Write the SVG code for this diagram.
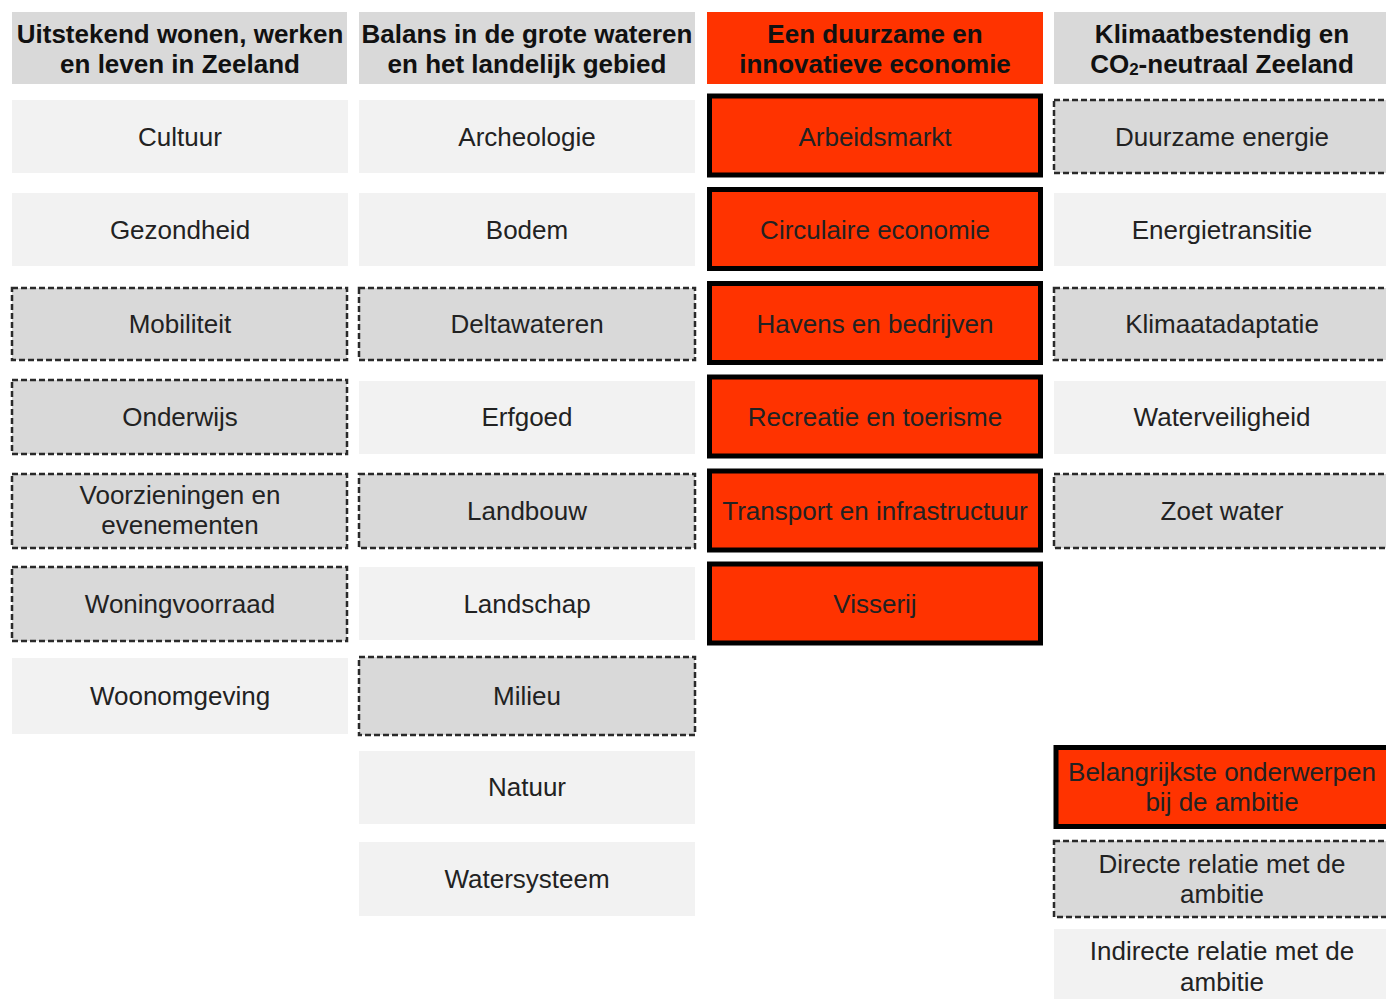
<svg xmlns="http://www.w3.org/2000/svg" width="1386" height="999" viewBox="0 0 1386 999">
<style>
text{font-family:"Liberation Sans",Arial,sans-serif;font-size:26px;fill:#222;text-anchor:middle}
.h{font-weight:bold;fill:#111}
.hd{fill:#d9d9d9}
.ho{fill:#ff3300}
.lt{fill:#f2f2f2}
.ds{fill:#d9d9d9;stroke:#2a2a2a;stroke-width:2.5;stroke-dasharray:6 3}
.or{fill:#ff3300;stroke:#000;stroke-width:5}
</style>
<rect width="1386" height="999" fill="#fff"/>
<g id="headers">
<g id="h1"><rect class="hd" x="12" y="12" width="335" height="72"/><text class="h" x="180" y="43">Uitstekend wonen, werken</text><text class="h" x="180" y="73">en leven in Zeeland</text></g>
<g id="h2"><rect class="hd" x="359" y="12" width="336" height="72"/><text class="h" x="527" y="43">Balans in de grote wateren</text><text class="h" x="527" y="73">en het landelijk gebied</text></g>
<g id="h3"><rect class="ho" x="707" y="12" width="336" height="72"/><text class="h" x="875" y="43">Een duurzame en</text><text class="h" x="875" y="73">innovatieve economie</text></g>
<g id="h4"><rect class="hd" x="1054" y="12" width="340" height="72"/><text class="h" x="1222" y="43">Klimaatbestendig en</text><text class="h" x="1222" y="73">CO<tspan font-size="17" dy="2">2</tspan><tspan dy="-2">-neutraal Zeeland</tspan></text></g>
</g>
<g id="col1">
<g id="cultuur"><rect class="lt" x="12" y="100" width="336" height="73"/><text x="180" y="145.5">Cultuur</text></g>
<g id="gezondheid"><rect class="lt" x="12" y="193" width="336" height="73"/><text x="180" y="238.5">Gezondheid</text></g>
<g id="mobiliteit"><rect class="ds" x="12" y="288" width="335" height="72"/><text x="180" y="332.5">Mobiliteit</text></g>
<g id="onderwijs"><rect class="ds" x="12" y="380" width="335" height="74"/><text x="180" y="426">Onderwijs</text></g>
<g id="voorzieningen"><rect class="ds" x="12" y="474" width="335" height="74"/><text x="180" y="504">Voorzieningen en</text><text x="180" y="534">evenementen</text></g>
<g id="woningvoorraad"><rect class="ds" x="12" y="567" width="335" height="74"/><text x="180" y="613">Woningvoorraad</text></g>
<g id="woonomgeving"><rect class="lt" x="12" y="658" width="336" height="76"/><text x="180" y="705">Woonomgeving</text></g>
</g>
<g id="col2">
<g id="archeologie"><rect class="lt" x="359" y="100" width="336" height="73"/><text x="527" y="145.5">Archeologie</text></g>
<g id="bodem"><rect class="lt" x="359" y="193" width="336" height="73"/><text x="527" y="238.5">Bodem</text></g>
<g id="deltawateren"><rect class="ds" x="359" y="288" width="336" height="72"/><text x="527" y="332.5">Deltawateren</text></g>
<g id="erfgoed"><rect class="lt" x="359" y="381" width="336" height="73"/><text x="527" y="426">Erfgoed</text></g>
<g id="landbouw"><rect class="ds" x="359" y="474" width="336" height="74"/><text x="527" y="519.5">Landbouw</text></g>
<g id="landschap"><rect class="lt" x="359" y="567" width="336" height="73"/><text x="527" y="613">Landschap</text></g>
<g id="milieu"><rect class="ds" x="359" y="657" width="336" height="78"/><text x="527" y="705">Milieu</text></g>
<g id="natuur"><rect class="lt" x="359" y="751" width="336" height="73"/><text x="527" y="796">Natuur</text></g>
<g id="watersysteem"><rect class="lt" x="359" y="842" width="336" height="74"/><text x="527" y="888">Watersysteem</text></g>
</g>
<g id="col3">
<g id="arbeidsmarkt"><rect class="or" x="709.5" y="96" width="331" height="79"/><text x="875" y="145.5">Arbeidsmarkt</text></g>
<g id="circulaire"><rect class="or" x="709.5" y="189.5" width="331" height="79"/><text x="875" y="238.5">Circulaire economie</text></g>
<g id="havens"><rect class="or" x="709.5" y="283.5" width="331" height="79"/><text x="875" y="332.5">Havens en bedrijven</text></g>
<g id="recreatie"><rect class="or" x="709.5" y="377" width="331" height="79"/><text x="875" y="426">Recreatie en toerisme</text></g>
<g id="transport"><rect class="or" x="709.5" y="471" width="331" height="79"/><text x="875" y="519.5">Transport en infrastructuur</text></g>
<g id="visserij"><rect class="or" x="709.5" y="564" width="331" height="79"/><text x="875" y="613">Visserij</text></g>
</g>
<g id="col4">
<g id="duurzame-energie"><rect class="ds" x="1054" y="100" width="340" height="73"/><text x="1222" y="145.5">Duurzame energie</text></g>
<g id="energietransitie"><rect class="lt" x="1054" y="193" width="340" height="73"/><text x="1222" y="238.5">Energietransitie</text></g>
<g id="klimaatadaptatie"><rect class="ds" x="1054" y="288" width="340" height="72"/><text x="1222" y="332.5">Klimaatadaptatie</text></g>
<g id="waterveiligheid"><rect class="lt" x="1054" y="381" width="340" height="73"/><text x="1222" y="426">Waterveiligheid</text></g>
<g id="zoet-water"><rect class="ds" x="1054" y="474" width="340" height="74"/><text x="1222" y="519.5">Zoet water</text></g>
</g>
<g id="legend">
<g id="leg-belangrijk"><rect class="or" x="1056" y="747.5" width="340" height="79"/><text x="1222" y="781">Belangrijkste onderwerpen</text><text x="1222" y="811">bij de ambitie</text></g>
<g id="leg-direct"><rect class="ds" x="1054" y="841" width="340" height="76"/><text x="1222" y="873">Directe relatie met de</text><text x="1222" y="903">ambitie</text></g>
<g id="leg-indirect"><rect class="lt" x="1054" y="929" width="340" height="76"/><text x="1222" y="960">Indirecte relatie met de</text><text x="1222" y="991">ambitie</text></g>
</g>
<g id="connectors"/>
</svg>
